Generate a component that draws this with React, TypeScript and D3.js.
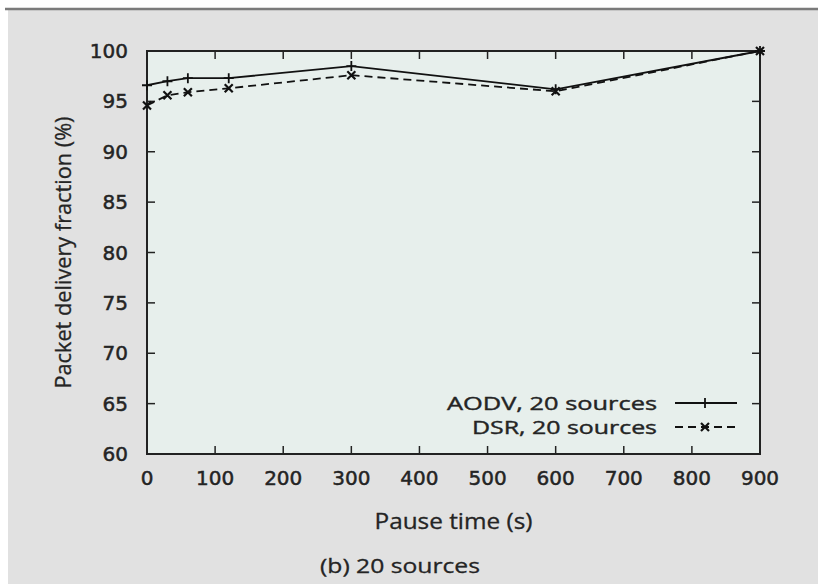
import React from "react";
import * as d3 from "d3";

const pauseTimes = [0, 30, 60, 120, 300, 600, 900];
const aodvValues = [96.6, 97.0, 97.3, 97.3, 98.5, 96.2, 100];
const dsrValues = [94.6, 95.6, 95.9, 96.3, 97.6, 96.0, 100];
const xTicks = [0, 100, 200, 300, 400, 500, 600, 700, 800, 900];
const yTicks = [60, 65, 70, 75, 80, 85, 90, 95, 100];
const seriesNames = ["AODV, 20 sources", "DSR, 20 sources"];

const W = 818;
const H = 588;
const left = 147;
const right = 760;
const top = 51;
const bottom = 454;

export default function App() {
  const x = d3.scaleLinear().domain([0, 900]).range([left, right]);
  const y = d3.scaleLinear().domain([60, 100]).range([bottom, top]);
  const line = d3
    .line<number>()
    .x((_, i) => x(pauseTimes[i]))
    .y((d) => y(d));

  const tickLen = 8;
  const plusPath = (cx: number, cy: number, s = 5) =>
    `M${cx - s},${cy}H${cx + s}M${cx},${cy - s}V${cy + s}`;
  const crossPath = (cx: number, cy: number, s = 4) =>
    `M${cx - s},${cy - s}L${cx + s},${cy + s}M${cx - s},${cy + s}L${cx + s},${cy - s}`;

  const tickFont = "'DejaVu Sans', Verdana, sans-serif";
  const labelFont = "'Open Sans', 'Noto Sans', sans-serif";
  const txt = "#242424";

  return (
    <svg
      width={W}
      height={H}
      style={{ position: "absolute", left: 0, top: 0, background: "#ffffff" }}
    >
      <rect x={8} y={10} width={W - 8} height={574} fill="#e1e1e1" />
      <line x1={5} x2={W} y1={9} y2={9} stroke="#7a7a7a" strokeWidth={2.5} />
      <rect
        x={left}
        y={top}
        width={right - left}
        height={bottom - top}
        fill="#e7efec"
      />

      {/* ticks */}
      {xTicks.map((t) => (
        <g key={"xt" + t}>
          <line x1={x(t)} x2={x(t)} y1={bottom} y2={bottom - tickLen} stroke="#222" strokeWidth={1.5} />
          <line x1={x(t)} x2={x(t)} y1={top} y2={top + tickLen} stroke="#222" strokeWidth={1.5} />
          <text
            x={x(t)}
            y={bottom + 31}
            textAnchor="middle"
            fontFamily={tickFont}
            fontSize={20}
            fill={txt}
            stroke={txt}
            strokeWidth={0.5}
          >
            {t}
          </text>
        </g>
      ))}
      {yTicks.map((t) => (
        <g key={"yt" + t}>
          <line x1={left} x2={left + tickLen} y1={y(t)} y2={y(t)} stroke="#222" strokeWidth={1.5} />
          <line x1={right} x2={right - tickLen} y1={y(t)} y2={y(t)} stroke="#222" strokeWidth={1.5} />
          <text
            x={128}
            y={y(t) + 7}
            textAnchor="end"
            fontFamily={tickFont}
            fontSize={20}
            fill={txt}
            stroke={txt}
            strokeWidth={0.5}
          >
            {t}
          </text>
        </g>
      ))}

      {/* frame */}
      <rect
        x={left}
        y={top}
        width={right - left}
        height={bottom - top}
        fill="none"
        stroke="#222"
        strokeWidth={2}
      />

      {/* series */}
      <path d={line(aodvValues) || ""} fill="none" stroke="#111" strokeWidth={1.8} />
      <path
        d={line(dsrValues) || ""}
        fill="none"
        stroke="#111"
        strokeWidth={1.8}
        strokeDasharray="8,5"
      />
      {aodvValues.map((v, i) => (
        <path key={"a" + i} d={plusPath(x(pauseTimes[i]), y(v))} stroke="#111" strokeWidth={1.8} fill="none" />
      ))}
      {dsrValues.map((v, i) => (
        <path key={"d" + i} d={crossPath(x(pauseTimes[i]), y(v))} stroke="#111" strokeWidth={2.2} fill="none" />
      ))}

      {/* legend */}
      <text x={657} y={410} textAnchor="end" fontFamily={labelFont} fontSize={19} fill={txt} stroke={txt} strokeWidth={0.4} textLength={210} lengthAdjust="spacingAndGlyphs">
        {seriesNames[0]}
      </text>
      <line x1={675} x2={737} y1={403} y2={403} stroke="#111" strokeWidth={1.8} />
      <path d={plusPath(705, 403)} stroke="#111" strokeWidth={1.8} fill="none" />
      <text x={657} y={434} textAnchor="end" fontFamily={labelFont} fontSize={19} fill={txt} stroke={txt} strokeWidth={0.4} textLength={185} lengthAdjust="spacingAndGlyphs">
        {seriesNames[1]}
      </text>
      <line x1={675} x2={737} y1={427} y2={427} stroke="#111" strokeWidth={1.8} strokeDasharray="8,5" />
      <path d={crossPath(705, 427)} stroke="#111" strokeWidth={2.2} fill="none" />

      {/* axis titles */}
      <text x={(left + right) / 2} y={529} textAnchor="middle" fontFamily={labelFont} fontSize={21} fill={txt} stroke={txt} strokeWidth={0.3} textLength={158} lengthAdjust="spacingAndGlyphs">
        Pause time (s)
      </text>
      <text
        transform={`translate(71,${(top + bottom) / 2}) rotate(-90)`}
        textAnchor="middle"
        fontFamily={labelFont}
        fontSize={21}
        fill={txt}
        stroke={txt}
        strokeWidth={0.3}
        textLength={272}
        lengthAdjust="spacingAndGlyphs"
      >
        Packet delivery fraction (%)
      </text>
      <text x={400} y={573} textAnchor="middle" fontFamily={labelFont} fontSize={20} fill={txt} stroke={txt} strokeWidth={0.3} textLength={160} lengthAdjust="spacingAndGlyphs">
        (b) 20 sources
      </text>
    </svg>
  );
}
